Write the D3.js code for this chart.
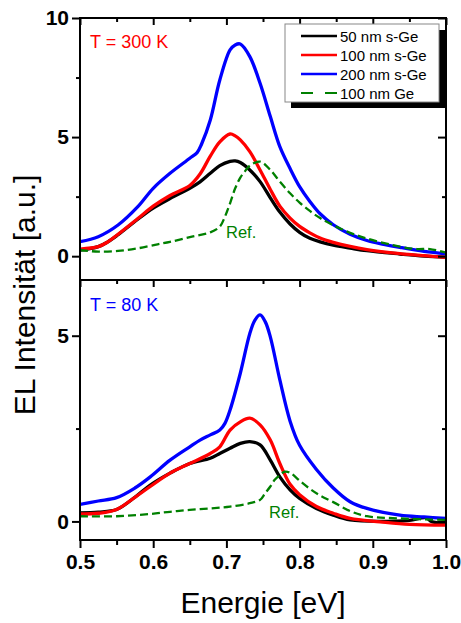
<!DOCTYPE html>
<html>
<head>
<meta charset="utf-8">
<script src="https://cdn.jsdelivr.net/npm/d3@7"></script>
<style>
  html, body { margin: 0; padding: 0; background: #fff; }
  svg { display: block; }
  text { font-family: "Liberation Sans", Arial, sans-serif; }
</style>
</head>
<body>
<svg id="chart" width="461" height="623"></svg>
<script>
// ---------- data (Energie [eV], EL intensity [a.u.]) ----------
const xTicks = [0.5, 0.6, 0.7, 0.8, 0.9, 1.0];
const yTicksTop = [0, 5, 10];
const yTicksBottom = [0, 5];
const legendLabels = ["50 nm s-Ge", "100 nm s-Ge", "200 nm s-Ge", "100 nm Ge"];
const panelLabels = ["T = 300 K", "T = 80 K"];

// T = 300 K
const t300_50nm = [[0.5,0.25],[0.525,0.4],[0.538,0.6],[0.552,0.9],[0.579,1.55],[0.6,2.02],[0.623,2.42],[0.65,2.85],[0.664,3.12],[0.678,3.48],[0.691,3.8],[0.705,3.98],[0.712,4.0],[0.719,3.93],[0.732,3.62],[0.746,3.13],[0.76,2.45],[0.773,1.85],[0.787,1.35],[0.8,1.0],[0.814,0.75],[0.828,0.6],[0.846,0.46],[0.869,0.34],[0.892,0.23],[0.937,0.09],[0.97,0.0],[1.0,-0.05]];
const t300_100nm = [[0.5,0.3],[0.525,0.4],[0.538,0.6],[0.552,0.92],[0.579,1.58],[0.6,2.1],[0.623,2.55],[0.65,2.97],[0.664,3.45],[0.678,4.2],[0.691,4.8],[0.705,5.13],[0.712,5.05],[0.719,4.88],[0.732,4.39],[0.746,3.62],[0.76,2.8],[0.773,2.1],[0.787,1.6],[0.8,1.25],[0.814,0.98],[0.828,0.76],[0.846,0.58],[0.869,0.41],[0.892,0.28],[0.937,0.11],[0.97,0.02],[1.0,-0.05]];
const t300_200nm = [[0.5,0.61],[0.525,0.82],[0.552,1.31],[0.579,2.08],[0.6,2.85],[0.623,3.48],[0.65,4.11],[0.66,4.35],[0.666,4.7],[0.678,5.72],[0.691,7.4],[0.705,8.66],[0.712,8.87],[0.719,8.91],[0.732,8.38],[0.746,7.26],[0.76,5.86],[0.773,4.6],[0.787,3.68],[0.8,2.92],[0.814,2.3],[0.828,1.78],[0.846,1.32],[0.869,0.92],[0.892,0.66],[0.915,0.5],[0.937,0.37],[0.97,0.2],[1.0,0.1]];
const t300_ref = [[0.5,0.26],[0.525,0.19],[0.552,0.22],[0.579,0.33],[0.606,0.5],[0.623,0.6],[0.65,0.8],[0.678,1.0],[0.691,1.24],[0.698,1.66],[0.705,2.22],[0.712,2.85],[0.719,3.3],[0.725,3.55],[0.732,3.8],[0.746,3.97],[0.76,3.62],[0.773,3.13],[0.787,2.64],[0.8,2.25],[0.814,1.9],[0.828,1.6],[0.846,1.3],[0.869,0.98],[0.892,0.74],[0.937,0.4],[0.96,0.3],[0.978,0.3],[1.0,0.15]];

// T = 80 K
const t80_50nm = [[0.5,0.23],[0.525,0.25],[0.55,0.32],[0.575,0.65],[0.596,0.98],[0.623,1.3],[0.65,1.56],[0.678,1.7],[0.691,1.83],[0.705,1.97],[0.719,2.1],[0.732,2.15],[0.746,2.06],[0.76,1.65],[0.773,1.2],[0.787,0.85],[0.8,0.62],[0.823,0.35],[0.846,0.17],[0.869,0.04],[0.91,0.0],[0.95,0.03],[0.973,0.1],[0.98,0.0],[1.0,-0.05]];
const t80_100nm = [[0.5,0.2],[0.525,0.22],[0.55,0.32],[0.575,0.65],[0.596,0.94],[0.623,1.3],[0.65,1.56],[0.678,1.83],[0.691,2.01],[0.705,2.46],[0.719,2.68],[0.732,2.78],[0.746,2.6],[0.76,2.19],[0.773,1.56],[0.787,1.0],[0.8,0.72],[0.823,0.4],[0.846,0.22],[0.869,0.08],[0.91,-0.01],[0.95,-0.08],[1.0,-0.1]];
const t80_200nm = [[0.5,0.46],[0.525,0.55],[0.55,0.64],[0.575,0.9],[0.596,1.2],[0.623,1.65],[0.65,2.01],[0.664,2.19],[0.678,2.33],[0.691,2.46],[0.698,2.64],[0.705,3.0],[0.719,3.99],[0.732,5.06],[0.739,5.42],[0.746,5.56],[0.753,5.38],[0.76,4.97],[0.773,3.81],[0.787,2.7],[0.8,2.05],[0.823,1.4],[0.846,0.9],[0.869,0.53],[0.892,0.35],[0.937,0.17],[0.97,0.12],[1.0,0.08]];
const t80_ref = [[0.5,0.14],[0.55,0.14],[0.596,0.2],[0.623,0.26],[0.65,0.31],[0.678,0.35],[0.705,0.4],[0.732,0.49],[0.746,0.58],[0.753,0.76],[0.76,0.94],[0.766,1.12],[0.773,1.25],[0.78,1.34],[0.787,1.31],[0.8,1.1],[0.814,0.88],[0.828,0.7],[0.846,0.52],[0.869,0.28],[0.892,0.14],[0.937,0.08],[1.0,0.04]];

const colors = ["#000000", "#ff0000", "#0000ff", "#008000"];

// ---------- layout ----------
const svg = d3.select("#chart");
const left = 80, right = 446;
const x = d3.scaleLinear().domain([0.5, 1.0]).range([left, right]);
const yTop = d3.scaleLinear().domain([-1, 10]).range([280, 18]);
const yBot = d3.scaleLinear().domain([-0.5, 6.5]).range([540, 280]);

const panels = [
  { y: yTop, series: [t300_50nm, t300_100nm, t300_200nm, t300_ref], label: panelLabels[0], labelColor: "#ff0000", ticks: yTicksTop, minor: [2.5, 7.5], id: "top" },
  { y: yBot, series: [t80_50nm, t80_100nm, t80_200nm, t80_ref], label: panelLabels[1], labelColor: "#0000ff", ticks: yTicksBottom, minor: [2.5], id: "bot" }
];

const defs = svg.append("defs");
const xMinor = [0.55, 0.65, 0.75, 0.85, 0.95];

panels.forEach((p, pi) => {
  const [y0, y1] = p.y.range();
  defs.append("clipPath").attr("id", "clip-" + p.id)
    .append("rect").attr("x", left).attr("y", y1).attr("width", right - left).attr("height", y0 - y1);

  const g = svg.append("g").attr("clip-path", "url(#clip-" + p.id + ")");
  const line = d3.line().x(d => x(d[0])).y(d => p.y(d[1])).curve(d3.curveCatmullRom.alpha(0.5));
  p.series.forEach((s, i) => {
    g.append("path").datum(s)
      .attr("d", line)
      .attr("fill", "none")
      .attr("stroke", colors[i])
      .attr("stroke-width", i === 3 ? 2.3 : 3.3)
      .attr("stroke-linejoin", "round")
      .attr("stroke-dasharray", i === 3 ? "8,4" : null);
  });

  // left axis (ticks outward)
  const gl = svg.append("g").attr("transform", `translate(${left},0)`)
    .call(d3.axisLeft(p.y).tickValues(p.ticks).tickSize(8).tickPadding(3).tickFormat(d3.format("d")));
  gl.select(".domain").remove();
  gl.selectAll("line").attr("stroke-width", 2);
  gl.selectAll("text").attr("font-size", 21).attr("font-weight", "bold").attr("fill", "#000");
  const glm = svg.append("g").attr("transform", `translate(${left},0)`)
    .call(d3.axisLeft(p.y).tickValues(p.minor).tickSize(4).tickFormat(""));
  glm.select(".domain").remove();
  glm.selectAll("line").attr("stroke-width", 2);

  // right axis (ticks inward)
  const gr = svg.append("g").attr("transform", `translate(${right},0)`)
    .call(d3.axisLeft(p.y).tickValues(p.ticks).tickSize(8).tickFormat(""));
  gr.select(".domain").remove();
  gr.selectAll("line").attr("stroke-width", 2);
  const grm = svg.append("g").attr("transform", `translate(${right},0)`)
    .call(d3.axisLeft(p.y).tickValues(p.minor).tickSize(4).tickFormat(""));
  grm.select(".domain").remove();
  grm.selectAll("line").attr("stroke-width", 2);

  // top ticks of each panel (pointing down into the panel)
  const gt = svg.append("g").attr("transform", `translate(0,${y1})`)
    .call(d3.axisBottom(x).tickValues(xTicks).tickSize(7).tickFormat(""));
  gt.select(".domain").remove();
  gt.selectAll("line").attr("stroke-width", 2);
  const gtm = svg.append("g").attr("transform", `translate(0,${y1})`)
    .call(d3.axisBottom(x).tickValues(xMinor).tickSize(4).tickFormat(""));
  gtm.select(".domain").remove();
  gtm.selectAll("line").attr("stroke-width", 2);

  // frame
  svg.append("rect").attr("x", left).attr("y", y1).attr("width", right - left).attr("height", y0 - y1)
    .attr("fill", "none").attr("stroke", "#000").attr("stroke-width", 2);

  // panel temperature label
  svg.append("text").attr("x", 90).attr("y", pi === 0 ? 48 : 311)
    .attr("font-size", 18).attr("fill", p.labelColor).text(p.label);

  // Ref. label
  svg.append("text").attr("x", pi === 0 ? 226 : 269).attr("y", pi === 0 ? 238 : 518)
    .attr("font-size", 16.5).attr("fill", "#008000").text("Ref.");
});

// bottom x axis (ticks outward)
const gb = svg.append("g").attr("transform", "translate(0,540)")
  .call(d3.axisBottom(x).tickValues(xTicks).tickSize(8).tickPadding(6).tickFormat(d3.format(".1f")));
gb.select(".domain").remove();
gb.selectAll("line").attr("stroke-width", 2);
gb.selectAll("text").attr("font-size", 21).attr("font-weight", "bold").attr("fill", "#000");
const gbm = svg.append("g").attr("transform", "translate(0,540)")
  .call(d3.axisBottom(x).tickValues(xMinor).tickSize(5).tickFormat(""));
gbm.select(".domain").remove();
gbm.selectAll("line").attr("stroke-width", 2);

// axis titles
svg.append("text").attr("x", (left + right) / 2).attr("y", 613)
  .attr("text-anchor", "middle").attr("font-size", 30).text("Energie [eV]");
svg.append("text").attr("transform", "translate(35,295) rotate(-90)")
  .attr("text-anchor", "middle").attr("font-size", 30).text("EL Intensität [a.u.]");

// legend
const lg = svg.append("g");
lg.append("rect").attr("x", 291).attr("y", 30).attr("width", 154).attr("height", 78).attr("fill", "#000");
lg.append("rect").attr("x", 285).attr("y", 24).attr("width", 154).attr("height", 78)
  .attr("fill", "#fff").attr("stroke", "#888").attr("stroke-width", 1);
legendLabels.forEach((lab, i) => {
  const cy = 36 + i * 19;
  lg.append("line").attr("x1", 301).attr("x2", 337).attr("y1", cy).attr("y2", cy)
    .attr("stroke", colors[i]).attr("stroke-width", i === 3 ? 2.2 : 2.5)
    .attr("stroke-dasharray", i === 3 ? "12,12" : null);
  lg.append("text").attr("x", 340).attr("y", cy + 5.5).attr("font-size", 15).text(lab);
});
</script>
</body>
</html>
